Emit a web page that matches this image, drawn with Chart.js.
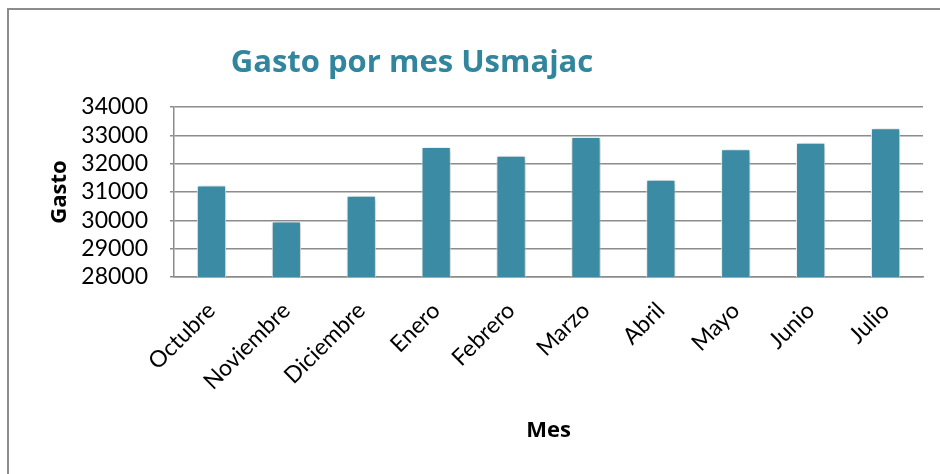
<!DOCTYPE html>
<html>
<head>
<meta charset="utf-8">
<script src="https://cdn.jsdelivr.net/npm/chart.js@4"></script>
<style>
  body { margin: 0; background: #fff; }
  #frame { position: absolute; left: 7px; top: 8px; width: 1000px; height: 1000px; border: 2px solid #8c8c8c; }
  #wrap { position: absolute; left: 0; top: 0; width: 940px; height: 474px; }
</style>
</head>
<body>
<div id="frame"></div>
<div id="wrap"><canvas id="gastoChart" width="940" height="474"></canvas></div>
<script>
// Gasto por mes - Usmajac
const meses = ['Octubre', 'Noviembre', 'Diciembre', 'Enero', 'Febrero', 'Marzo', 'Abril', 'Mayo', 'Junio', 'Julio'];
const gastos = [31230, 29960, 30870, 32590, 32280, 32940, 31430, 32510, 32740, 33250];
const yMin = 28000;
const yMax = 34000;
const yStep = 1000;

const tituloTexto = 'Gasto por mes Usmajac';
const tituloY = 'Gasto';
const tituloX = 'Mes';

const gridColor = '#8c8c8c';
const barColor = '#3a8ba3';

// title drawn off-center like in the original sheet
const tituloPlugin = {
    id: 'tituloPlugin',
    afterDraw(chart) {
        const ctx = chart.ctx;
        ctx.save();
        ctx.font = 'bold 31px "Open Sans"';
        ctx.fillStyle = '#31859c';
        ctx.textAlign = 'center';
        ctx.textBaseline = 'middle';
        ctx.fillText(tituloTexto, 412, 63);
        ctx.restore();
    }
};

// soft shadow behind the bars
const sombraPlugin = {
    id: 'sombraPlugin',
    beforeDatasetsDraw(chart) {
        const ctx = chart.ctx;
        ctx.save();
        ctx.shadowColor = 'rgba(0,0,0,0.35)';
        ctx.shadowBlur = 5;
        ctx.shadowOffsetX = 1;
        ctx.shadowOffsetY = 1;
    },
    afterDatasetsDraw(chart) {
        chart.ctx.restore();
    }
};

const ctx = document.getElementById('gastoChart');
new Chart(ctx, {
    type: 'bar',
    data: {
        labels: meses,
        datasets: [{
            label: 'Gasto',
            data: gastos,
            backgroundColor: barColor,
            borderColor: '#ffffff',
            borderWidth: 1,
            barPercentage: 0.39,
            categoryPercentage: 1
        }]
    },
    options: {
        responsive: false,
        animation: false,
        layout: { padding: { top: 107, right: 17, left: 0, bottom: 0 } },
        plugins: {
            legend: { display: false },
            tooltip: { enabled: false }
        },
        scales: {
            y: {
                min: yMin,
                max: yMax,
                afterFit: s => { s.width = 174; },
                ticks: {
                    stepSize: yStep,
                    autoSkip: false,
                    color: '#000',
                    padding: 22,
                    font: { family: 'Lato', size: 23, lineHeight: 1 },
                    callback: v => String(v)
                },
                grid: { color: gridColor, lineWidth: 1.5, tickLength: 4 },
                border: { display: true, color: gridColor, width: 1.5 },
                title: {
                    display: true,
                    text: tituloY,
                    color: '#000',
                    font: { family: 'Open Sans', size: 22, weight: 'bold' },
                    padding: { top: 47, bottom: 0 }
                }
            },
            x: {
                afterFit: s => { s.height = 197; },
                ticks: {
                    autoSkip: false,
                    color: '#000',
                    minRotation: 45,
                    maxRotation: 45,
                    padding: 12,
                    font: { family: 'Lato', size: 23 }
                },
                grid: { display: false },
                border: { display: true, color: gridColor, width: 1.5 },
                title: {
                    display: true,
                    text: tituloX,
                    color: '#000',
                    font: { family: 'Open Sans', size: 22, weight: 'bold' },
                    padding: { top: 0, bottom: 30 }
                }
            }
        }
    },
    plugins: [sombraPlugin, tituloPlugin]
});
</script>
</body>
</html>
